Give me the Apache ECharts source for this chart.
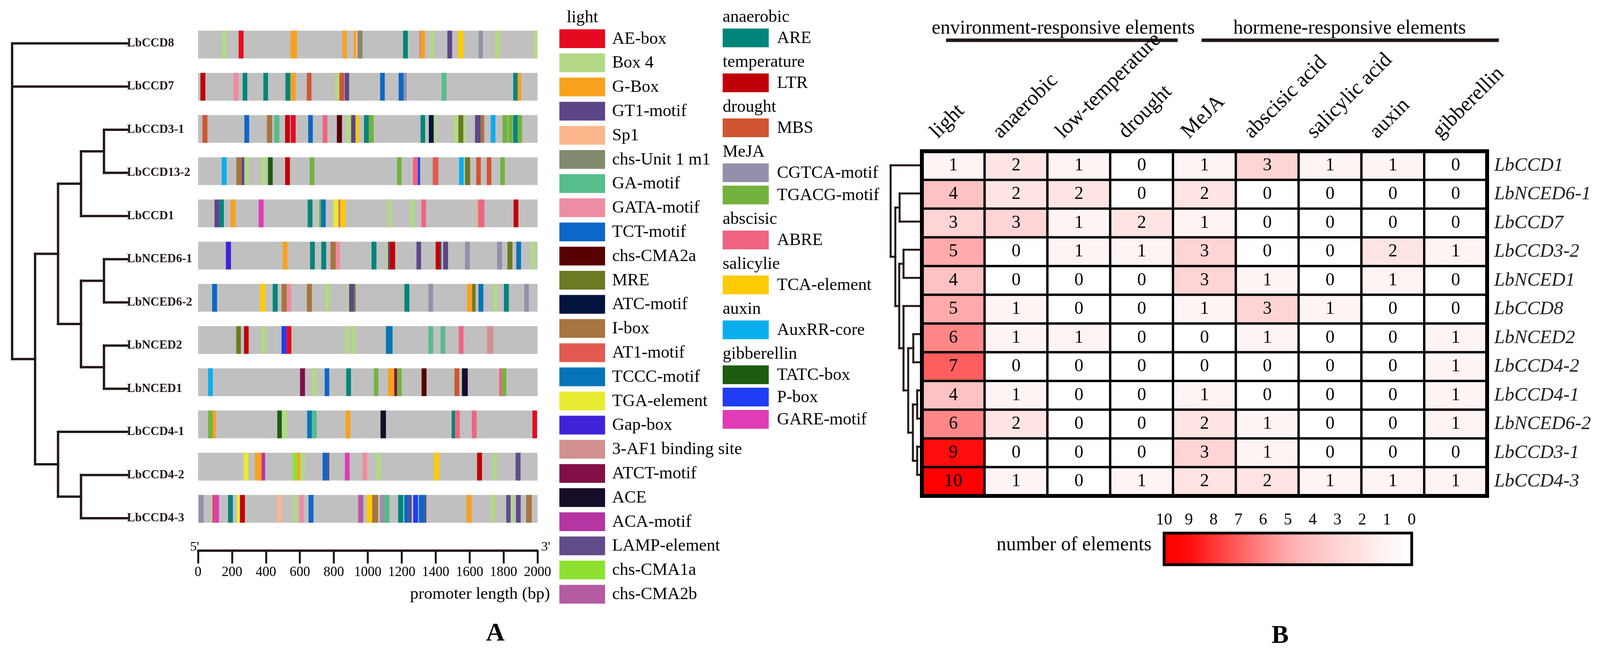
<!DOCTYPE html>
<html><head><meta charset="utf-8">
<script src="https://cdn.jsdelivr.net/npm/echarts@6.0.0/dist/echarts.min.js"></script>
<style>html,body{margin:0;padding:0;background:#fff}#c{width:4112px;height:1676px}</style>
</head><body><div id="c"></div>
<script>
// ---------------- DATA ----------------
// Panel A: genes (top to bottom), promoter length, motif catalogue
const genesA = ['LbCCD8','LbCCD7','LbCCD3-1','LbCCD13-2','LbCCD1','LbNCED6-1','LbNCED6-2','LbNCED2','LbNCED1','LbCCD4-1','LbCCD4-2','LbCCD4-3'];
const promoterLength = 2000;
const promoterTickStep = 200;

const motifNames = ['AE-box','Box 4','G-Box','GT1-motif','Sp1','chs-Unit 1 m1','GA-motif','GATA-motif','TCT-motif','chs-CMA2a','MRE','ATC-motif','I-box','AT1-motif','TCCC-motif','TGA-element','Gap-box','3-AF1 binding site','ATCT-motif','ACE','ACA-motif','LAMP-element','chs-CMA1a','chs-CMA2b','ARE','LTR','MBS','CGTCA-motif','TGACG-motif','ABRE','TCA-element','AuxRR-core','TATC-box','P-box','GARE-motif'];
const motifColors = ['#e60a21','#b3d886','#f8a11d','#5c4689','#fcb78c','#7f8a6f','#56bd8d','#ee8ca3','#0b67c8','#570101','#6a7b23','#03143c','#a87441','#e35a51','#0675b7','#e7ec32','#4023d9','#d49191','#820f48','#170d29','#b535a3','#5f4d89','#8ee131','#b55ba3','#00857a','#c00009','#d05531','#9490ab','#73b33d','#f06382','#fdcb03','#0aaeed','#1e5c12','#1f3df2','#e03cb7'];

const legendLightTitle = 'light';
const legendLightItems = motifNames.slice(0, 24);
const legendGroups = [
  ['anaerobic', ['ARE']],
  ['temperature', ['LTR']],
  ['drought', ['MBS']],
  ['MeJA', ['CGTCA-motif','TGACG-motif']],
  ['abscisic', ['ABRE']],
  ['salicylie', ['TCA-element']],
  ['auxin', ['AuxRR-core']],
  ['gibberellin', ['TATC-box','P-box','GARE-motif']]
];

// motif sites [start bp, end bp, motif]
const sitesLbCCD8 = [[139,168,'Box 4'],[239,268,'AE-box'],[545,583,'G-Box'],[851,877,'G-Box'],[917,930,'G-Box'],[930,940,'Sp1'],[940,969,'chs-Unit 1 m1'],[1208,1236,'ARE'],[1305,1310,'ABRE'],[1310,1337,'G-Box'],[1363,1392,'Box 4'],[1469,1497,'GT1-motif'],[1531,1563,'TCA-element'],[1653,1678,'CGTCA-motif'],[1750,1781,'Box 4'],[1975,2000,'Box 4']];
const sitesLbCCD7 = [[14,43,'LTR'],[210,239,'GATA-motif'],[263,290,'ARE'],[385,412,'ARE'],[515,544,'ARE'],[545,575,'G-Box'],[641,668,'MBS'],[806,833,'Box 4'],[833,861,'MBS'],[864,890,'GT1-motif'],[1073,1100,'TCT-motif'],[1182,1211,'TCT-motif'],[1211,1229,'CGTCA-motif'],[1435,1464,'GA-motif'],[1857,1883,'ARE'],[1883,1904,'G-Box']];
const sitesLbCCD3_1 = [[26,55,'MBS'],[273,301,'TCT-motif'],[406,437,'I-box'],[448,479,'GA-motif'],[513,541,'LTR'],[546,575,'AE-box'],[649,676,'TCT-motif'],[734,762,'ABRE'],[818,848,'chs-CMA2a'],[871,901,'Box 4'],[902,928,'GT1-motif'],[928,948,'TCA-element'],[978,1006,'ARE'],[1006,1035,'TGACG-motif'],[1311,1338,'ARE'],[1360,1389,'ATC-motif'],[1389,1405,'Box 4'],[1504,1534,'Box 4'],[1534,1563,'MRE'],[1563,1576,'Box 4'],[1632,1665,'GT1-motif'],[1665,1686,'I-box'],[1724,1752,'AuxRR-core'],[1794,1823,'TGACG-motif'],[1827,1853,'TGACG-motif'],[1856,1883,'ARE'],[1883,1909,'TGACG-motif']];
const sitesLbCCD13_2 = [[139,168,'AuxRR-core'],[226,257,'I-box'],[257,273,'GT1-motif'],[273,302,'Box 4'],[370,400,'Box 4'],[412,440,'TATC-box'],[513,541,'LTR'],[658,685,'TGACG-motif'],[1173,1199,'TGACG-motif'],[1266,1295,'ABRE'],[1295,1308,'P-box'],[1383,1416,'AT1-motif'],[1538,1565,'AuxRR-core'],[1573,1603,'MRE'],[1639,1666,'MBS'],[1701,1728,'MBS'],[1781,1807,'TGACG-motif']];
const sitesLbCCD1 = [[97,126,'GT1-motif'],[126,152,'ARE'],[192,221,'G-Box'],[357,386,'GARE-motif'],[646,674,'ARE'],[714,724,'TGACG-motif'],[724,752,'TCCC-motif'],[798,827,'TGA-element'],[827,838,'ABRE'],[838,869,'TCA-element'],[1114,1140,'Box 4'],[1250,1278,'Box 4'],[1316,1343,'ABRE'],[1647,1652,'G-Box'],[1652,1687,'ABRE'],[1859,1887,'LTR']];
const sitesLbNCED6_1 = [[164,194,'Gap-box'],[499,527,'G-Box'],[660,688,'ARE'],[726,755,'ARE'],[780,812,'I-box'],[812,836,'GATA-motif'],[1022,1051,'ARE'],[1106,1119,'Box 4'],[1119,1129,'GT1-motif'],[1129,1161,'LTR'],[1287,1314,'GT1-motif'],[1400,1429,'LTR'],[1429,1434,'ARE'],[1444,1473,'GT1-motif'],[1573,1601,'CGTCA-motif'],[1762,1791,'CGTCA-motif'],[1823,1852,'MRE'],[1875,1903,'TCCC-motif'],[1959,1988,'Box 4']];
const sitesLbNCED6_2 = [[83,112,'TCT-motif'],[365,397,'TCA-element'],[440,469,'ARE'],[492,523,'I-box'],[523,549,'GATA-motif'],[641,671,'I-box'],[746,775,'Box 4'],[877,890,'Box 4'],[890,919,'GT1-motif'],[919,928,'MRE'],[1216,1245,'ARE'],[1357,1384,'CGTCA-motif'],[1585,1615,'G-Box'],[1615,1635,'MRE'],[1652,1681,'TCCC-motif'],[1737,1765,'Box 4'],[1802,1831,'ARE'],[1922,1949,'CGTCA-motif']];
const sitesLbNCED2 = [[225,252,'MRE'],[271,298,'LTR'],[369,398,'Box 4'],[492,521,'P-box'],[521,550,'AE-box'],[865,893,'Box 4'],[905,932,'Box 4'],[1107,1146,'TCCC-motif'],[1357,1385,'GA-motif'],[1429,1456,'GA-motif'],[1536,1564,'ABRE'],[1703,1740,'3-AF1 binding site']];
const sitesLbNCED1 = [[59,87,'AuxRR-core'],[601,630,'ATCT-motif'],[672,700,'Box 4'],[746,773,'TCT-motif'],[873,901,'ARE'],[1036,1062,'TGACG-motif'],[1119,1156,'G-Box'],[1156,1173,'ATCT-motif'],[1173,1200,'TGACG-motif'],[1317,1346,'chs-CMA2a'],[1511,1539,'MBS'],[1555,1589,'ACE'],[1774,1790,'ABRE'],[1790,1816,'TGACG-motif']];
const sitesLbCCD4_1 = [[59,87,'TGACG-motif'],[87,105,'G-Box'],[467,494,'TATC-box'],[494,527,'Box 4'],[643,671,'TCCC-motif'],[671,699,'GA-motif'],[869,897,'G-Box'],[1075,1107,'ACE'],[1494,1514,'ARE'],[1514,1542,'ABRE'],[1613,1641,'ABRE'],[1970,1997,'AE-box']];
const sitesLbCCD4_2 = [[268,297,'TGA-element'],[335,374,'G-Box'],[374,395,'ACA-motif'],[558,586,'chs-CMA1a'],[586,601,'G-Box'],[601,628,'Box 4'],[734,763,'TCT-motif'],[763,773,'GT1-motif'],[865,893,'GARE-motif'],[969,997,'GATA-motif'],[1048,1077,'Box 4'],[1389,1420,'TCA-element'],[1644,1673,'LTR'],[1735,1762,'Box 4'],[1871,1900,'LAMP-element']];
const sitesLbCCD4_3 = [[4,33,'CGTCA-motif'],[85,96,'MBS'],[96,123,'GARE-motif'],[177,205,'ARE'],[228,247,'TGA-element'],[247,276,'LTR'],[465,492,'Sp1'],[557,584,'Box 4'],[596,624,'GATA-motif'],[651,680,'TCT-motif'],[943,974,'chs-CMA2b'],[994,1026,'TCA-element'],[1026,1061,'I-box'],[1072,1098,'CGTCA-motif'],[1098,1128,'GA-motif'],[1179,1209,'ARE'],[1215,1241,'TCT-motif'],[1241,1258,'GT1-motif'],[1268,1296,'P-box'],[1301,1334,'TCT-motif'],[1334,1345,'GT1-motif'],[1582,1611,'G-Box'],[1724,1750,'Box 4'],[1816,1842,'LAMP-element'],[1842,1859,'Box 4'],[1873,1901,'LAMP-element'],[1933,1966,'I-box']];
const sitesByGene = [sitesLbCCD8, sitesLbCCD7, sitesLbCCD3_1, sitesLbCCD13_2, sitesLbCCD1, sitesLbNCED6_1, sitesLbNCED6_2, sitesLbNCED2, sitesLbNCED1, sitesLbCCD4_1, sitesLbCCD4_2, sitesLbCCD4_3];

// Panel A tree (cladogram): lv = node level, numbers = leaf index in genesA
const treeA = {lv:0, c:[0, 1, {lv:1, c:[
  {lv:2, c:[{lv:3, c:[{lv:4, c:[2,3]}, 4]}, {lv:3, c:[{lv:4, c:[5,6]}, {lv:4, c:[7,8]}]}]},
  {lv:2, c:[9, {lv:3, c:[10,11]}]}
]}]};
const treeALeafLevel = 5;

// Panel B heatmap
const heatCols = ['light','anaerobic','low-temperature','drought','MeJA','abscisic acid','salicylic acid','auxin','gibberellin'];
const heatRows = ['LbCCD1','LbNCED6-1','LbCCD7','LbCCD3-2','LbNCED1','LbCCD8','LbNCED2','LbCCD4-2','LbCCD4-1','LbNCED6-2','LbCCD3-1','LbCCD4-3'];
const heatValues = [
  [1,2,1,0,1,3,1,1,0],
  [4,2,2,0,2,0,0,0,0],
  [3,3,1,2,1,0,0,0,0],
  [5,0,1,1,3,0,0,2,1],
  [4,0,0,0,3,1,0,1,0],
  [5,1,0,0,1,3,1,0,0],
  [6,1,1,0,0,1,0,0,1],
  [7,0,0,0,0,0,0,0,1],
  [4,1,0,0,1,0,0,0,1],
  [6,2,0,0,2,1,0,0,1],
  [9,0,0,0,3,1,0,0,0],
  [10,1,0,1,2,2,1,1,1]
];
const heatMin = 0, heatMax = 10;
// Panel B row dendrogram: h = merge height, numbers = row index
const treeB = {h:80, c:[0, {h:68, c:[{h:57, c:[1,2]}, {h:58, c:[{h:47, c:[3,4]}, {h:47, c:[5, {h:35, c:[{h:22, c:[6,7]}, {h:23, c:[{h:12, c:[8,9]}, {h:12, c:[10,11]}]}]}]}]}]}]};
const treeBMax = 80;

// ---------------- STYLE ----------------
const FONT = 'Liberation Serif';
const INK = '#231815';
const heatStops = ['#ffffff','#fff4f4','#ffe4e4','#ffd4d4','#ffc2c2','#ffabab','#ff8787','#ff5e5e','#ff3636','#ff0c0c','#ff0000'];

// ---------------- BUILD ----------------
const colorOf = n => motifColors[motifNames.indexOf(n)];

function layoutTree(node, segs, xKey, leafX) {
  if (typeof node === 'number') return {x: leafX, y: node};
  const kids = node.c.map(k => layoutTree(k, segs, xKey, leafX));
  const x = node[xKey];
  const y0 = kids[0].y, y1 = kids[kids.length - 1].y;
  segs.push([x, y0, x, y1]);
  kids.forEach(k => segs.push([x, k.y, k.x, k.y]));
  return {x, y: (y0 + y1) / 2};
}
const segsA = []; layoutTree(treeA, segsA, 'lv', treeALeafLevel);
const segsB = []; layoutTree(treeB, segsB, 'h', 0);

const trackBg = genesA.map((g, i) => [i, 0, promoterLength, -1]);
const trackSites = [];
sitesByGene.forEach((arr, i) => arr.forEach(s => trackSites.push([i, s[0], s[1], motifNames.indexOf(s[2])])));

const heatData = [];
heatValues.forEach((row, r) => row.forEach((v, c) => heatData.push([c, r, v])));

function segRender(color, width) {
  return function (params, api) {
    const a = api.coord([api.value(0), api.value(1)]);
    const b = api.coord([api.value(2), api.value(3)]);
    return {type: 'line', shape: {x1: a[0], y1: a[1], x2: b[0], y2: b[1]},
      style: {stroke: color, lineWidth: width, lineCap: 'square'}};
  };
}
function trackRender(params, api) {
  const yi = api.value(0);
  const p0 = api.coord([api.value(1), yi]);
  const p1 = api.coord([api.value(2), yi]);
  const h = api.size([0, 1])[1] * 0.657;
  const mi = api.value(3);
  return {type: 'rect', shape: {x: p0[0], y: p0[1] - h / 2, width: p1[0] - p0[0], height: h},
    style: {fill: mi < 0 ? '#c0c0c0' : motifColors[mi]}};
}
function colorbarRender(params, api) {
  const a = api.coord([heatMax, 1]);
  const b = api.coord([heatMin, 0]);
  const n = heatStops.length - 1;
  const stops = heatStops.map((c, i) => ({offset: 1 - i / n, color: c})).reverse();
  return {type: 'rect', shape: {x: a[0], y: a[1], width: b[0] - a[0], height: b[1] - a[1]},
    style: {fill: new echarts.graphic.LinearGradient(0, 0, 1, 0, stops)}};
}

// legend graphics
const lg = {fontFamily: FONT, fontSize: 44, fill: '#000', verticalAlign: 'middle'};
const gfx = [];
gfx.push({type: 'text', x: 1491, y: 45, style: Object.assign({}, lg, {text: legendLightTitle, align: 'center'})});
legendLightItems.forEach((n, i) => {
  const top = 75 + i * 61.8;
  gfx.push({type: 'rect', shape: {x: 1432, y: top, width: 117, height: 48}, style: {fill: colorOf(n)}});
  gfx.push({type: 'text', x: 1567, y: top + 25, style: Object.assign({}, lg, {text: n, align: 'left'})});
});
let top2 = 73, first = true;
legendGroups.forEach(g => {
  if (!first) top2 += 58;
  first = false;
  gfx.push({type: 'text', x: 1850, y: top2 - 29, style: Object.assign({}, lg, {text: g[0], align: 'left'})});
  g[1].forEach((n, j) => {
    if (j > 0) top2 += 57;
    gfx.push({type: 'rect', shape: {x: 1850, y: top2, width: 118, height: 48}, style: {fill: colorOf(n)}});
    gfx.push({type: 'text', x: 1989, y: top2 + 25, style: Object.assign({}, lg, {text: n, align: 'left'})});
  });
  top2 += 57;
});
// texts
const hdr = {fontFamily: FONT, fontSize: 50, fill: '#000', verticalAlign: 'middle'};
gfx.push({type: 'text', x: 2722, y: 73, style: Object.assign({}, hdr, {text: 'environment-responsive elements', align: 'center'})});
gfx.push({type: 'text', x: 3455, y: 73, style: Object.assign({}, hdr, {text: 'hormene-responsive elements', align: 'center'})});
gfx.push({type: 'line', shape: {x1: 2422, y1: 103, x2: 3015, y2: 103}, style: {stroke: INK, lineWidth: 9}});
gfx.push({type: 'line', shape: {x1: 3076, y1: 103, x2: 3837, y2: 103}, style: {stroke: INK, lineWidth: 9}});
gfx.push({type: 'text', x: 2948, y: 1395, style: Object.assign({}, hdr, {text: 'number of elements', align: 'right'})});
gfx.push({type: 'text', x: 1408, y: 1521, style: {text: 'promoter length (bp)', fontFamily: FONT, fontSize: 43, fill: '#000', align: 'right', verticalAlign: 'middle'}});
gfx.push({type: 'text', x: 498, y: 1400, style: {text: "5'", fontFamily: FONT, fontSize: 34, fill: '#000', align: 'center', verticalAlign: 'middle'}});
gfx.push({type: 'text', x: 1397, y: 1400, style: {text: "3'", fontFamily: FONT, fontSize: 34, fill: '#000', align: 'center', verticalAlign: 'middle'}});
gfx.push({type: 'text', x: 1268, y: 1622, style: {text: 'A', fontFamily: FONT, fontSize: 66, fontWeight: 'bold', fill: '#000', align: 'center', verticalAlign: 'middle'}});
gfx.push({type: 'text', x: 3277, y: 1628, style: {text: 'B', fontFamily: FONT, fontSize: 66, fontWeight: 'bold', fill: '#000', align: 'center', verticalAlign: 'middle'}});

const hidden = {show: false};
const option = {
  backgroundColor: '#fff',
  animation: false,
  grid: [
    {left: 31, top: 111, width: 294, height: 1215},              // 0 tree A
    {left: 507, top: 60, width: 869, height: 1296},              // 1 tracks
    {left: 2360, top: 387, width: 1447, height: 882, show: true, borderColor: '#000', borderWidth: 10, backgroundColor: 'transparent', z: 5}, // 2 heatmap
    {left: 2280, top: 423, width: 80, height: 792},              // 3 tree B
    {left: 2980, top: 1364, width: 634, height: 81, show: true, borderColor: '#000', borderWidth: 7, backgroundColor: 'transparent', z: 5} // 4 colorbar
  ],
  xAxis: [
    {gridIndex: 0, type: 'value', min: 0, max: treeALeafLevel, show: false},
    {gridIndex: 1, type: 'value', min: 0, max: promoterLength, interval: promoterTickStep, position: 'bottom', offset: 53,
      axisLine: {show: true, lineStyle: {color: INK, width: 6}},
      axisTick: {show: true, length: 33, lineStyle: {color: INK, width: 5}},
      axisLabel: {fontFamily: FONT, fontSize: 35, color: '#000', margin: 38, formatter: v => String(v)},
      splitLine: hidden},
    {gridIndex: 2, type: 'category', data: heatCols, position: 'top',
      axisLine: hidden, axisTick: hidden, axisLabel: hidden},
    {gridIndex: 3, type: 'value', min: 0, max: treeBMax, inverse: true, show: false},
    {gridIndex: 4, type: 'value', min: heatMin, max: heatMax, interval: 1, inverse: true, position: 'top',
      axisLine: {show: true, lineStyle: {color: '#000', width: 6}},
      axisTick: {show: true, length: 17, lineStyle: {color: '#000', width: 5}},
      axisLabel: {fontFamily: FONT, fontSize: 42, color: '#000', margin: 12},
      splitLine: hidden}
  ],
  yAxis: [
    {gridIndex: 0, type: 'value', min: 0, max: genesA.length - 1, interval: 1, inverse: true, position: 'right',
      axisLine: hidden, axisTick: hidden, splitLine: hidden,
      axisLabel: {formatter: v => genesA[v] || '', fontFamily: FONT, fontSize: 31, fontWeight: 'bold', color: INK, margin: 0}},
    {gridIndex: 1, type: 'category', data: genesA, inverse: true, show: false},
    {gridIndex: 2, type: 'category', data: heatRows, inverse: true, position: 'right',
      axisLine: hidden, axisTick: hidden,
      axisLabel: {fontFamily: FONT, fontSize: 49, fontStyle: 'italic', color: '#222', margin: 18}},
    {gridIndex: 3, type: 'value', min: 0, max: heatRows.length - 1, inverse: true, show: false},
    {gridIndex: 4, type: 'value', min: 0, max: 1, show: false}
  ],
  visualMap: {type: 'continuous', min: heatMin, max: heatMax, show: false, seriesIndex: 2, dimension: 2,
    inRange: {color: heatStops}},
  series: [
    {type: 'custom', xAxisIndex: 1, yAxisIndex: 1, data: trackBg.concat(trackSites), renderItem: trackRender, encode: {x: [1, 2], y: 0}, clip: false},
    {type: 'custom', xAxisIndex: 0, yAxisIndex: 0, data: segsA, renderItem: segRender(INK, 6), encode: {x: [0, 2], y: [1, 3]}, clip: false},
    {type: 'heatmap', xAxisIndex: 2, yAxisIndex: 2, data: heatData,
      itemStyle: {borderColor: '#000', borderWidth: 6},
      label: {show: true, fontFamily: FONT, fontSize: 46, color: '#000'},
      emphasis: {disabled: true}},
    {type: 'custom', xAxisIndex: 3, yAxisIndex: 3, data: segsB, renderItem: segRender(INK, 5), encode: {x: [0, 2], y: [1, 3]}, clip: false},
    {type: 'custom', xAxisIndex: 4, yAxisIndex: 4, data: [[heatMax, 1]], renderItem: colorbarRender, clip: false}
  ]
};
const chart = echarts.init(document.getElementById('c'), null, {renderer: 'canvas'});
chart.setOption(option);

// rotated column labels of the heatmap, anchored at the category positions of the heatmap x axis
const colLabelEls = heatCols.map((name, c) => {
  const p = chart.convertToPixel({xAxisIndex: 2, yAxisIndex: 2}, [c, 0]);
  return {type: 'text', x: p[0] - 50, y: 346, rotation: Math.PI / 4,
    style: {text: name, fontFamily: FONT, fontSize: 54, fill: '#000', align: 'left', verticalAlign: 'middle'}};
});
chart.setOption({graphic: gfx.concat(colLabelEls)});
</script></body></html>
